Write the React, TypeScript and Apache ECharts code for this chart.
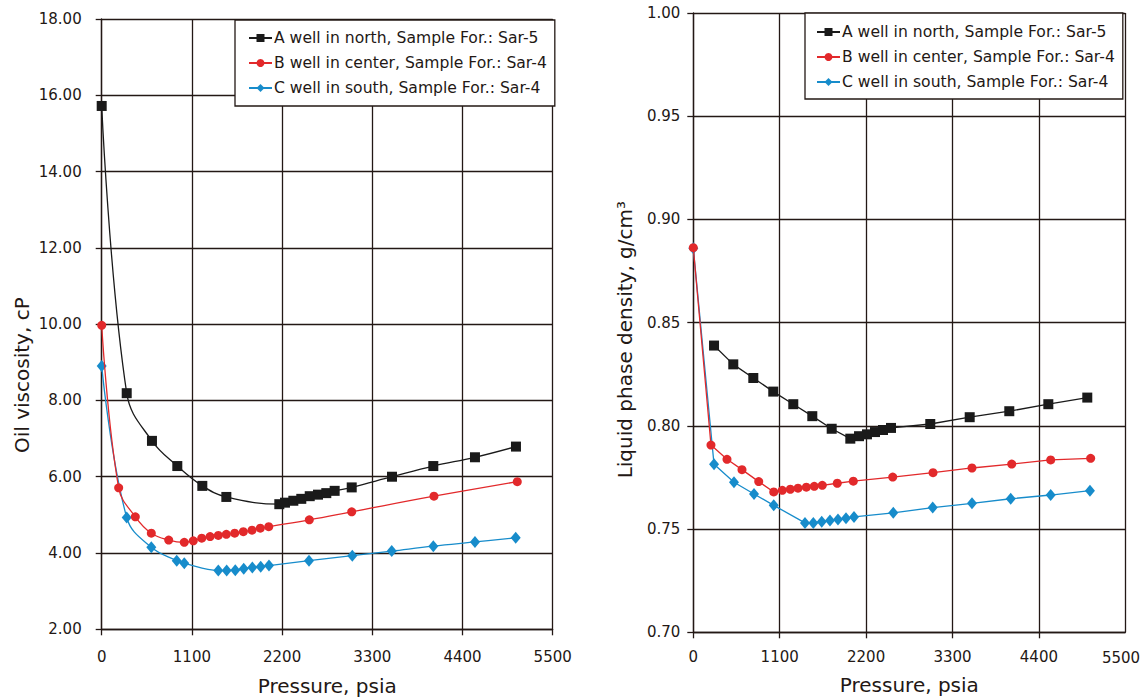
import React, { useEffect, useRef } from "react";
import * as echarts from "echarts";

const seriesNames = [
  "A well in north, Sample For.: Sar-5",
  "B well in center, Sample For.: Sar-4",
  "C well in south, Sample For.: Sar-4",
];

// Left chart: oil viscosity (cP) vs pressure (psia)
const viscAX = [0, 305, 613, 922, 1227, 1520, 2166, 2235, 2337, 2434, 2537, 2638, 2739, 2841, 3049, 3540, 4044, 4552, 5052];
const viscAY = [15.72, 8.19, 6.94, 6.28, 5.76, 5.47, 5.28, 5.32, 5.37, 5.42, 5.49, 5.53, 5.57, 5.63, 5.72, 6.0, 6.28, 6.51, 6.79];
const viscBX = [0, 207, 410, 605, 817, 1007, 1117, 1220, 1322, 1422, 1520, 1622, 1727, 1833, 1934, 2037, 2532, 3049, 4052, 5068];
const viscBY = [9.97, 5.71, 4.95, 4.52, 4.34, 4.28, 4.32, 4.39, 4.43, 4.46, 4.49, 4.52, 4.56, 4.6, 4.65, 4.69, 4.87, 5.08, 5.49, 5.87];
const viscCX = [0, 305, 605, 915, 1007, 1422, 1524, 1629, 1732, 1837, 1939, 2040, 2528, 3056, 3537, 4044, 4552, 5049];
const viscCY = [8.9, 4.93, 4.15, 3.8, 3.73, 3.54, 3.54, 3.55, 3.59, 3.62, 3.64, 3.67, 3.8, 3.93, 4.05, 4.18, 4.29, 4.4];

// Right chart: liquid phase density (g/cm3) vs pressure (psia)
const densAX = [264, 509, 764, 1018, 1273, 1515, 1762, 1999, 2110, 2211, 2313, 2415, 2517, 3017, 3519, 4023, 4520, 5016];
const densAY = [0.8389, 0.8298, 0.8232, 0.8166, 0.8105, 0.8047, 0.7986, 0.7938, 0.795, 0.7959, 0.797, 0.798, 0.799, 0.8009, 0.8042, 0.8071, 0.8105, 0.8137];
const densBX = [0, 225, 429, 620, 833, 1024, 1133, 1235, 1333, 1439, 1540, 1642, 1833, 2037, 2539, 3052, 3548, 4054, 4550, 5059];
const densBY = [0.8863, 0.7907, 0.7838, 0.7788, 0.773, 0.768, 0.7688, 0.7693, 0.7698, 0.7703, 0.7707, 0.7712, 0.7722, 0.7732, 0.7752, 0.7773, 0.7796, 0.7815, 0.7835, 0.7843];
const densCX = [0, 264, 518, 773, 1024, 1422, 1528, 1635, 1740, 1842, 1944, 2046, 2546, 3048, 3548, 4041, 4550, 5050];
const densCY = [0.886, 0.7814, 0.7727, 0.767, 0.7615, 0.753, 0.753, 0.7536, 0.7541, 0.7547, 0.7552, 0.7559, 0.7579, 0.7604, 0.7625, 0.7647, 0.7665, 0.7686];

const xTicks = { min: 0, max: 5500, interval: 1100 };
const viscTicks = { min: 2, max: 18, interval: 2 };
const densTicks = { min: 0.7, max: 1.0, interval: 0.05 };

const INK = "#231815";
const COLORS = ["#1a1a1a", "#e2292b", "#178ccb"];
const SYMBOLS = ["rect", "circle", "diamond"];
const SIZES: any[] = [10, 9, [10, 12]];
const FONT = "'DejaVu Sans', 'Liberation Sans', Arial, sans-serif";

const zip = (xs: number[], ys: number[]) => xs.map((x, i) => [x, ys[i]]);

export default function App() {
  const ref = useRef<HTMLDivElement>(null);
  useEffect(() => {
    if (!ref.current) return;
    const chart = echarts.init(ref.current, undefined, { renderer: "svg" });

    const xAxisBase = (gridIndex: number, margin: number, nameGap: number, showMax: boolean) => ({
      type: "value",
      gridIndex,
      min: xTicks.min,
      max: xTicks.max,
      interval: xTicks.interval,
      name: "Pressure, psia",
      nameLocation: "middle",
      nameGap,
      nameTextStyle: { fontSize: 20, color: INK, fontFamily: FONT },
      axisLine: { show: true, onZero: false, lineStyle: { color: INK, width: 1.3 } },
      axisTick: { show: true, inside: false, length: 6, lineStyle: { color: INK, width: 1.3 } },
      axisLabel: {
        margin,
        fontSize: 15,
        color: INK,
        fontFamily: FONT,
        showMaxLabel: showMax,
        formatter: (v: number) => String(v),
      },
      splitLine: { show: true, lineStyle: { color: INK, width: 1.3 } },
    });

    const yAxisBase = (
      gridIndex: number,
      t: any,
      name: string,
      margin: number,
      nameGap: number,
      shiftDown: number
    ) => ({
      type: "value",
      gridIndex,
      min: t.min,
      max: t.max,
      interval: t.interval,
      name,
      nameLocation: "middle",
      nameGap,
      nameTextStyle: {
        fontSize: 20,
        color: INK,
        fontFamily: FONT,
        padding: [0, shiftDown * 2, 0, 0],
      },
      axisLine: { show: true, onZero: false, lineStyle: { color: INK, width: 1.3 } },
      axisTick: { show: true, inside: false, length: 6, lineStyle: { color: INK, width: 1.3 } },
      axisLabel: {
        margin,
        fontSize: 15,
        color: INK,
        fontFamily: FONT,
        formatter: (v: number) => v.toFixed(2),
      },
      splitLine: { show: true, lineStyle: { color: INK, width: 1.3 } },
    });

    const mk = (i: number, idx: number, data: number[][], smooth: any) => ({
      type: "line",
      name: seriesNames[i],
      xAxisIndex: idx,
      yAxisIndex: idx,
      data,
      smooth,
      symbol: SYMBOLS[i],
      symbolSize: SIZES[i],
      showAllSymbol: true,
      lineStyle: { color: COLORS[i], width: 1.3 },
      itemStyle: { color: COLORS[i] },
      z: 3 - i,
    });

    const legendBase = (left: number, top: number, padding: number[]) => ({
      left,
      top,
      orient: "vertical",
      padding,
      itemGap: 9,
      itemWidth: 23,
      itemHeight: 10,
      backgroundColor: "#ffffff",
      borderColor: INK,
      borderWidth: 1.3,
      borderRadius: 0,
      data: seriesNames,
      textStyle: { fontSize: 15.6, color: INK, fontFamily: FONT, padding: [0, 0, 0, -3] },
    });

    chart.setOption({
      animation: false,
      backgroundColor: "#ffffff",
      grid: [
        { left: 101.7, top: 19, width: 451, height: 610.3, outerBoundsMode: "none", containLabel: false },
        { left: 693.3, top: 13, width: 432, height: 619.3, outerBoundsMode: "none", containLabel: false },
      ],
      xAxis: [xAxisBase(0, 20.5, 47, true), xAxisBase(1, 17.5, 43, false)],
      yAxis: [
        yAxisBase(0, viscTicks, "Oil viscosity, cP", 20, 70, 51),
        yAxisBase(1, densTicks, "Liquid phase density, g/cm³", 13, 58, 17),
      ],
      legend: [
        legendBase(235, 20, [10, 8, 10, 13]),
        legendBase(805, 13, [11, 8, 9, 11]),
      ],
      graphic: [
        {
          type: "text",
          x: 1121,
          y: 657.5,
          silent: true,
          style: {
            text: String(xTicks.max),
            fontSize: 15,
            fontFamily: FONT,
            fill: INK,
            align: "center",
            verticalAlign: "middle",
          },
        },
      ],
      series: [
        mk(0, 0, zip(viscAX, viscAY), 0.4),
        mk(1, 0, zip(viscBX, viscBY), 0.4),
        mk(2, 0, zip(viscCX, viscCY), 0.4),
        mk(0, 1, zip(densAX, densAY), false),
        mk(1, 1, zip(densBX, densBY), false),
        mk(2, 1, zip(densCX, densCY), false),
      ],
    });
    return () => chart.dispose();
  }, []);
  return (
    <div
      ref={ref}
      style={{ position: "absolute", left: 0, top: 0, width: 1142, height: 699, background: "#fff" }}
    />
  );
}
